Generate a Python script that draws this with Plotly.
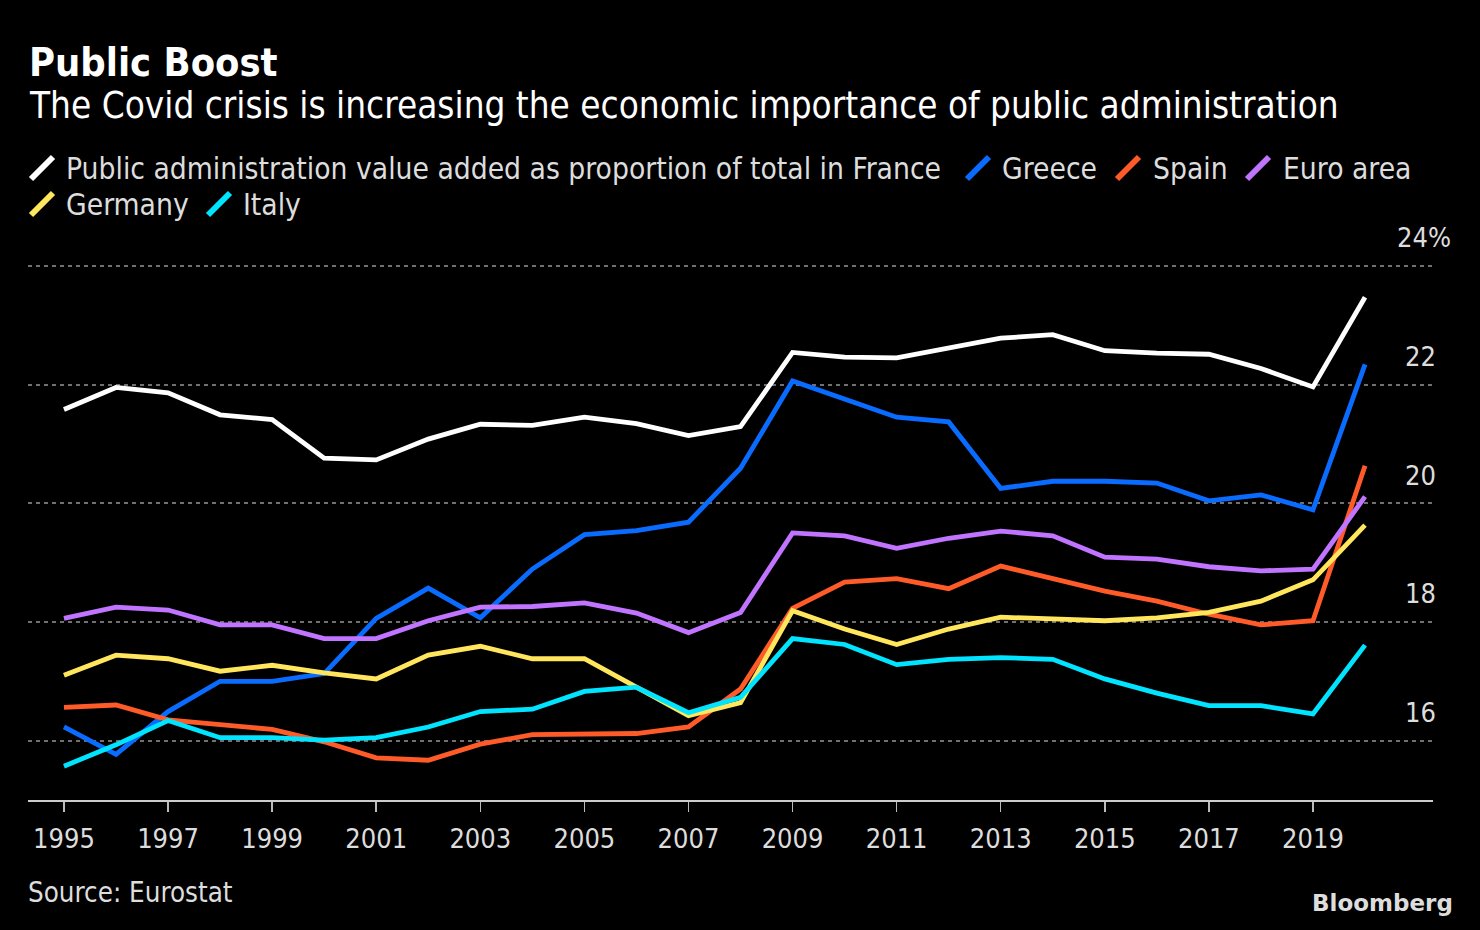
import plotly.graph_objects as go

# ---------------- data ----------------
years = list(range(1995, 2021))
series_names = [
    "Public administration value added as proportion of total in France",
    "Greece", "Spain", "Euro area", "Germany", "Italy",
]
france = [21.58, 21.95, 21.86, 21.49, 21.41, 20.76, 20.73, 21.08, 21.33, 21.31, 21.45, 21.34, 21.14,
          21.29, 22.54, 22.46, 22.45, 22.61, 22.78, 22.84, 22.57, 22.53, 22.51, 22.27, 21.96, 23.47]
greece = [16.23, 15.77, 16.49, 17.00, 17.00, 17.13, 18.06, 18.57, 18.07, 18.89, 19.47, 19.54, 19.68,
          20.59, 22.06, 21.75, 21.45, 21.37, 20.25, 20.37, 20.37, 20.34, 20.04, 20.14, 19.89, 22.34]
spain = [16.56, 16.60, 16.35, 16.27, 16.19, 15.98, 15.71, 15.67, 15.94, 16.10, 16.12, 16.12, 16.23,
         16.87, 18.23, 18.67, 18.73, 18.56, 18.94, 18.74, 18.52, 18.35, 18.13, 17.95, 18.02, 20.63]
euro_area = [18.06, 18.25, 18.20, 17.95, 17.95, 17.72, 17.72, 18.02, 18.25, 18.26, 18.32, 18.15, 17.82,
             18.16, 19.50, 19.45, 19.24, 19.41, 19.53, 19.45, 19.09, 19.06, 18.93, 18.86, 18.89, 20.11]
germany = [17.10, 17.44, 17.38, 17.17, 17.27, 17.14, 17.04, 17.44, 17.59, 17.38, 17.38, 16.89, 16.42,
           16.64, 18.19, 17.88, 17.62, 17.88, 18.08, 18.05, 18.02, 18.07, 18.16, 18.35, 18.71, 19.63]
italy = [15.57, 15.93, 16.34, 16.05, 16.05, 16.01, 16.05, 16.23, 16.49, 16.53, 16.83, 16.90, 16.47,
         16.73, 17.72, 17.62, 17.28, 17.37, 17.40, 17.37, 17.04, 16.80, 16.59, 16.59, 16.45, 17.61]
series_values = [france, greece, spain, euro_area, germany, italy]
colors = ["#ffffff", "#0a6cff", "#ff5b29", "#c174ff", "#ffe65c", "#00e4ff"]

x_tickvals = list(range(1995, 2020, 2))
y_tickvals = [16, 18, 20, 22, 24]
y_ticklabels = ["16", "18", "20", "22", "24%"]

title = "Public Boost"
subtitle = "The Covid crisis is increasing the economic importance of public administration"
source = "Source: Eurostat"

# ---------------- layout geometry ----------------
W, H = 1480, 930
L, R, T, B = 28, 47, 248, 130
PW, PH = W - L - R, H - T - B
FONT = "DejaVu Sans Condensed, DejaVu Sans, sans-serif"
TXT = "#dddddd"


def px(x, y):
    return (x - L) / PW, (H - B - y) / PH


fig = go.Figure()
for name, vals, col in zip(series_names, series_values, colors):
    fig.add_trace(go.Scatter(x=years, y=vals, mode="lines", name=name,
                             line=dict(color=col, width=4.8), showlegend=False,
                             hoverinfo="skip"))

annotations = []
shapes = []

# title / subtitle
x0, y0 = px(27, 62)
annotations.append(dict(text="<b>" + title + "</b>", x=x0, y=y0, xref="paper", yref="paper",
                        xanchor="left", yanchor="middle", showarrow=False,
                        font=dict(family=FONT, size=39.5, color="#ffffff")))
x0, y0 = px(27, 105)
annotations.append(dict(text=subtitle, x=x0, y=y0, xref="paper", yref="paper",
                        xanchor="left", yanchor="middle", showarrow=False,
                        font=dict(family=FONT, size=36.6, color="#ffffff")))

# custom legend (slanted strokes)
legend_pos = [(31, 168, 64), (967, 168, 1000), (1117, 168, 1151), (1247, 168, 1281),
              (31, 204, 64), (208, 204, 241)]
for (ix, cy, tx), name, col in zip(legend_pos, series_names, colors):
    ax0, ay0 = px(ix, cy + 11)
    ax1, ay1 = px(ix + 22, cy - 11)
    shapes.append(dict(type="line", xref="paper", yref="paper", x0=ax0, y0=ay0, x1=ax1, y1=ay1,
                       line=dict(color=col, width=6)))
    tx0, ty0 = px(tx, cy)
    annotations.append(dict(text=name, x=tx0, y=ty0, xref="paper", yref="paper",
                            xanchor="left", yanchor="middle", showarrow=False,
                            font=dict(family=FONT, size=29.7, color=TXT)))

# y labels above gridlines on the right
for v, lab in zip(y_tickvals, y_ticklabels):
    annotations.append(dict(text=lab, x=1, y=v, xref="paper", yref="y",
                            xanchor="right", yanchor="middle", yshift=28,
                            xshift=5 + (15 if lab.endswith("%") else 0), showarrow=False,
                            font=dict(family=FONT, size=27, color=TXT)))

# source + logo
x0, y0 = px(26, 892)
annotations.append(dict(text=source, x=x0, y=y0, xref="paper", yref="paper",
                        xanchor="left", yanchor="middle", showarrow=False,
                        font=dict(family=FONT, size=27.5, color=TXT)))
x0, y0 = px(1455, 903)
annotations.append(dict(text="<b>Bloomberg</b>", x=x0, y=y0, xref="paper", yref="paper",
                        xanchor="right", yanchor="middle", showarrow=False,
                        font=dict(family="DejaVu Sans, sans-serif", size=23, color=TXT)))

fig.update_layout(
    width=W, height=H,
    margin=dict(l=L, r=R, t=T, b=B, pad=0),
    paper_bgcolor="#000000", plot_bgcolor="#000000",
    showlegend=False,
    annotations=annotations, shapes=shapes,
    xaxis=dict(range=[1994.309, 2021.306], tickmode="array", tickvals=x_tickvals,
               ticktext=[str(v) for v in x_tickvals],
               ticks="outside", ticklen=10, tickwidth=1.5, tickcolor="#bbbbbb",
               showline=True, linecolor="#cccccc", linewidth=2,
               showgrid=False, zeroline=False, ticklabelstandoff=4,
               tickfont=dict(family=FONT, size=27, color=TXT), fixedrange=True),
    yaxis=dict(range=[15, 24.3], tickmode="array", tickvals=y_tickvals,
               showticklabels=False, showgrid=True, gridcolor="#707070", gridwidth=2,
               griddash="4px,4px", zeroline=False, showline=False, fixedrange=True),
)

fig.write_html("out.html", config={"displayModeBar": False, "staticPlot": True},
               post_script="document.body.style.margin='0';document.body.style.background='#000';")
